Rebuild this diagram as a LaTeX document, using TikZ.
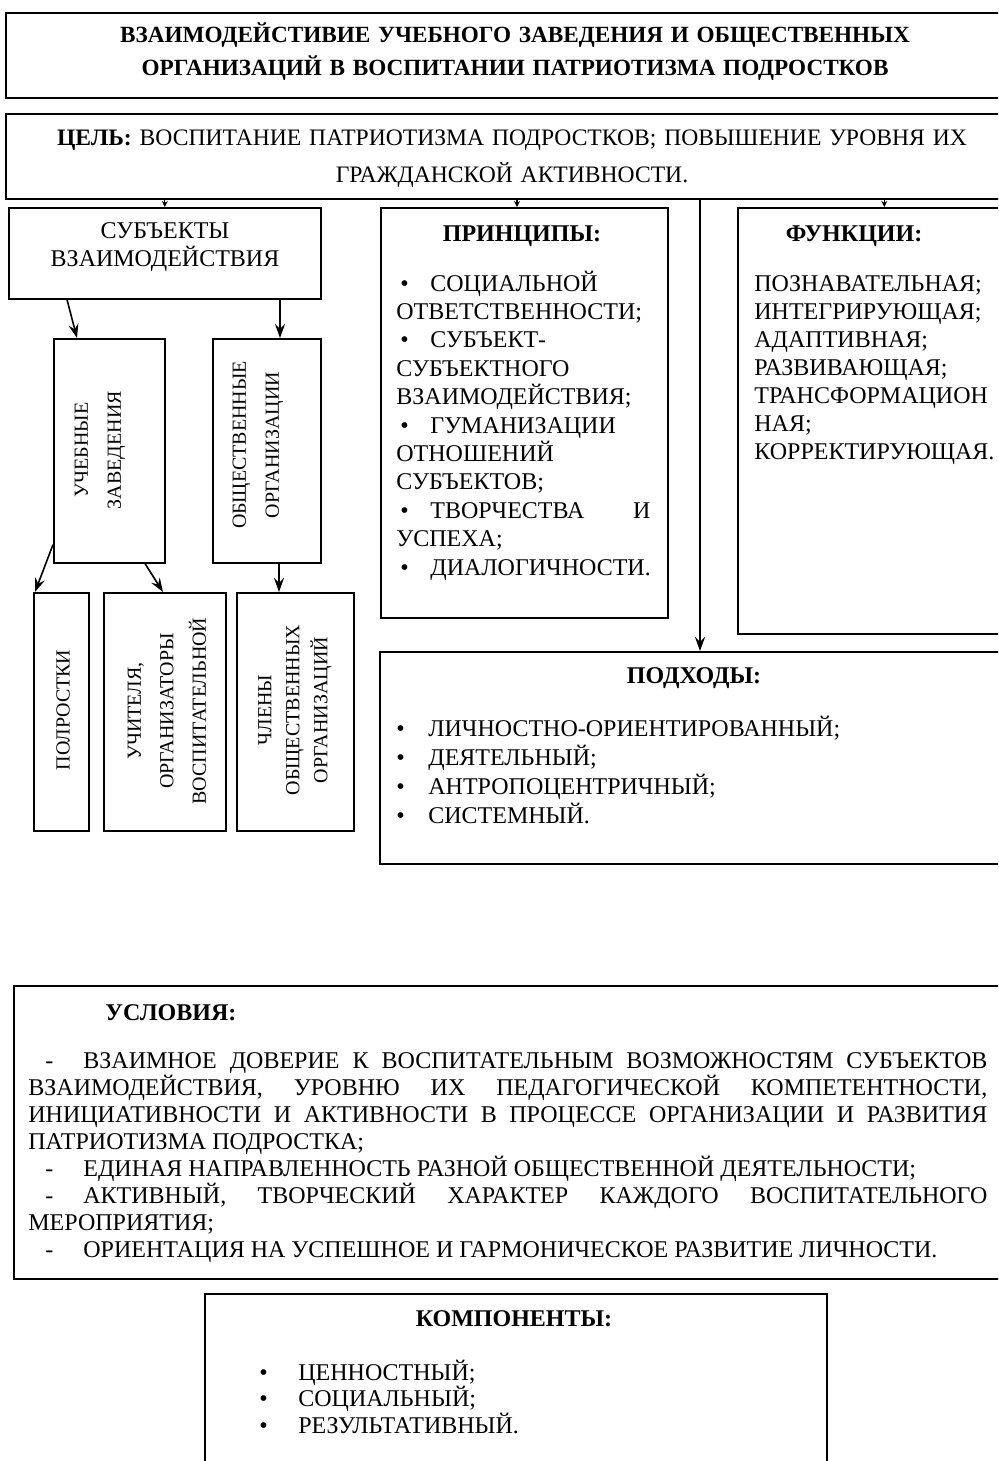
\documentclass[tikz,border=0pt]{standalone}
\usepackage{fontspec}
\setmainfont{Liberation Serif}
\usetikzlibrary{arrows.meta}
\hyphenpenalty=10000
\exhyphenpenalty=10000
\newcommand{\bulA}{\makebox[17pt][l]{\hspace{2pt}•}}
\newcommand{\bulB}{\makebox[16pt][l]{•}}
\newcommand{\bulC}{\makebox[19.5pt][l]{•}}
\newcommand{\dsh}{\makebox[27.5pt][l]{\hspace{8.5pt}-}}
\newcommand{\fsz}[2]{\fontsize{#1}{#2}\selectfont}
\begin{document}
\begin{tikzpicture}[x=0.5pt,y=-0.5pt,
  box/.style={draw, line width=0.8pt, rectangle, inner sep=0pt, anchor=north west},
  arr/.style={line width=0.8pt, -{Stealth[length=7pt,width=5pt,inset=2.5pt]}},
  tip/.style={line width=0.6pt, -{Stealth[length=3pt,width=3pt]}},
  txt/.style={inner sep=0pt, anchor=base west},
  ctxt/.style={inner sep=0pt, anchor=base, align=center},
  rtxt/.style={inner sep=0pt, rotate=90, align=center}
]
\useasboundingbox (0,0) rectangle (998,1461);
\clip (0,0) rectangle (998,1461);

% boxes
\node[box, minimum width=512.5pt, minimum height=42.5pt] (title) at (5,12) {};
\node[box, minimum width=512.5pt, minimum height=42.5pt] (goal) at (5,113) {};
\node[box, minimum width=156pt, minimum height=45.5pt] (subj) at (8,207) {};
\node[box, minimum width=143.5pt, minimum height=205pt] (princ) at (380,207) {};
\node[box, minimum width=146.5pt, minimum height=213pt] (func) at (737,207) {};
\node[box, minimum width=325.5pt, minimum height=106pt] (appr) at (379,651) {};
\node[box, minimum width=55.5pt, minimum height=112pt] (ucheb) at (53,338) {};
\node[box, minimum width=54pt, minimum height=112pt] (obsh) at (212,338) {};
\node[box, minimum width=27.5pt, minimum height=119pt] (podr) at (33,592) {};
\node[box, minimum width=61pt, minimum height=119pt] (uchit) at (103,592) {};
\node[box, minimum width=58.5pt, minimum height=119pt] (chlen) at (236,592) {};
\node[box, minimum width=508.5pt, minimum height=146.5pt] (cond) at (13,985) {};
\node[box, minimum width=311pt, minimum height=103.5pt] (comp) at (204,1293) {};

% texts
\node[ctxt, text width=500pt, font=\bfseries\fsz{11.6}{16.5}] (titletext) at (515,43)
  {ВЗАИМОДЕЙСТИВИЕ УЧЕБНОГО ЗАВЕДЕНИЯ И ОБЩЕСТВЕННЫХ\\ОРГАНИЗАЦИЙ В ВОСПИТАНИИ ПАТРИОТИЗМА ПОДРОСТКОВ};
\node[ctxt, text width=500pt, font=\fsz{11.8}{18.5}] (goaltext) at (512,146)
  {\textbf{ЦЕЛЬ:} ВОСПИТАНИЕ ПАТРИОТИЗМА ПОДРОСТКОВ; ПОВЫШЕНИЕ УРОВНЯ ИХ\\ГРАЖДАНСКОЙ АКТИВНОСТИ.};
\node[ctxt, text width=150pt, font=\fsz{12}{14}] (subjtext) at (165,238)
  {СУБЪЕКТЫ\\ВЗАИМОДЕЙСТВИЯ};

\node[ctxt, font=\bfseries\fsz{12}{14}] (princhead) at (522,241) {ПРИНЦИПЫ:};
\node[txt, text width=127pt, align=justify, font=\fsz{12}{14.2}] (princtext) at (396,291)
  {\bulA СОЦИАЛЬНОЙ\\ ОТВЕТСТВЕННОСТИ;\\ \bulA СУБЪЕКТ-\\ СУБЪЕКТНОГО\\ ВЗАИМОДЕЙСТВИЯ;\\ \bulA ГУМАНИЗАЦИИ\\ ОТНОШЕНИЙ\\ СУБЪЕКТОВ;\\ \bulA ТВОРЧЕСТВА И\linebreak УСПЕХА;\\ \bulA ДИАЛОГИЧНОСТИ.};

\node[ctxt, font=\bfseries\fsz{12}{14}] (funchead) at (854,241) {ФУНКЦИИ:};
\node[txt, align=left, text width=140pt, font=\fsz{12}{14}] (functext) at (754,291)
  {ПОЗНАВАТЕЛЬНАЯ;\\ИНТЕГРИРУЮЩАЯ;\\АДАПТИВНАЯ;\\РАЗВИВАЮЩАЯ;\\ТРАНСФОРМАЦИОН\\НАЯ;\\КОРРЕКТИРУЮЩАЯ.};

\node[ctxt, font=\bfseries\fsz{12}{14}] (apprhead) at (694,683) {ПОДХОДЫ:};
\node[txt, align=left, text width=300pt, font=\fsz{12}{14.5}] (apprtext) at (396,736)
  {\bulB ЛИЧНОСТНО-ОРИЕНТИРОВАННЫЙ;\\\bulB ДЕЯТЕЛЬНЫЙ;\\\bulB АНТРОПОЦЕНТРИЧНЫЙ;\\\bulB СИСТЕМНЫЙ.};

\node[rtxt, font=\fsz{10}{16.5}] (uchebtext) at (100,450) {УЧЕБНЫЕ\\ЗАВЕДЕНИЯ};
\node[rtxt, font=\fsz{10}{16.5}] (obshtext) at (258,445) {ОБЩЕСТВЕННЫЕ\\ОРГАНИЗАЦИИ};
\node[rtxt, font=\fsz{10}{14}] (podrtext) at (63,710) {ПОЛРОСТКИ};
\node[rtxt, font=\fsz{10}{16.25}] (uchittext) at (167,711) {УЧИТЕЛЯ,\\ОРГАНИЗАТОРЫ\\ВОСПИТАТЕЛЬНОЙ};
\node[rtxt, font=\fsz{10}{14}] (chlentext) at (295,710) {ЧЛЕНЫ\\ОБЩЕСТВЕННЫХ\\ОРГАНИЗАЦИЙ};

\node[txt, font=\bfseries\fsz{12}{14}] (condhead) at (105,1020) {УСЛОВИЯ:};
\node[txt, text width=479.5pt, align=justify, font=\fsz{12}{13.5}] (condtext) at (28,1068)
  {\dsh ВЗАИМНОЕ ДОВЕРИЕ К ВОСПИТАТЕЛЬНЫМ ВОЗМОЖНОСТЯМ СУБЪЕКТОВ\linebreak ВЗАИМОДЕЙСТВИЯ, УРОВНЮ ИХ ПЕДАГОГИЧЕСКОЙ КОМПЕТЕНТНОСТИ,\linebreak ИНИЦИАТИВНОСТИ И АКТИВНОСТИ В ПРОЦЕССЕ ОРГАНИЗАЦИИ И РАЗВИТИЯ\linebreak ПАТРИОТИЗМА ПОДРОСТКА;\\
   \dsh ЕДИНАЯ НАПРАВЛЕННОСТЬ РАЗНОЙ ОБЩЕСТВЕННОЙ ДЕЯТЕЛЬНОСТИ;\\
   \dsh АКТИВНЫЙ, ТВОРЧЕСКИЙ ХАРАКТЕР КАЖДОГО ВОСПИТАТЕЛЬНОГО\linebreak МЕРОПРИЯТИЯ;\\
   \dsh ОРИЕНТАЦИЯ НА УСПЕШНОЕ И ГАРМОНИЧЕСКОЕ РАЗВИТИЕ ЛИЧНОСТИ.};

\node[ctxt, font=\bfseries\fsz{12}{14}] (comphead) at (514,1326) {КОМПОНЕНТЫ:};
\node[txt, align=left, text width=200pt, font=\fsz{12}{13.3}] (comptext) at (259,1380)
  {\bulC ЦЕННОСТНЫЙ;\\\bulC СОЦИАЛЬНЫЙ;\\\bulC РЕЗУЛЬТАТИВНЫЙ.};

% connectors
\path ([xshift=68.5pt]princ.north west) coordinate (pn);
\path ([xshift=160.5pt]appr.north west) coordinate (an);
\draw[tip] (subj.north |- goal.south) -- (subj.north);
\draw[tip] (pn |- goal.south) -- (pn);
\draw[tip] (func.north |- goal.south) -- (func.north);
\draw[arr] (an |- goal.south) -- (an);
\draw[arr] ([xshift=29.5pt]subj.south west) -- ([xshift=12pt]ucheb.north west);
\draw[arr] ([xshift=136pt]subj.south west) -- ([xshift=34pt]obsh.north west);
\draw[arr] ([yshift=9.5pt]ucheb.south west) -- ([xshift=1pt]podr.north west);
\draw[arr] ([xshift=46pt]ucheb.south west) -- ([xshift=30pt]uchit.north west);
\draw[arr] ([xshift=33.5pt]obsh.south west) -- ([xshift=21.5pt]chlen.north west);
\end{tikzpicture}
\end{document}
